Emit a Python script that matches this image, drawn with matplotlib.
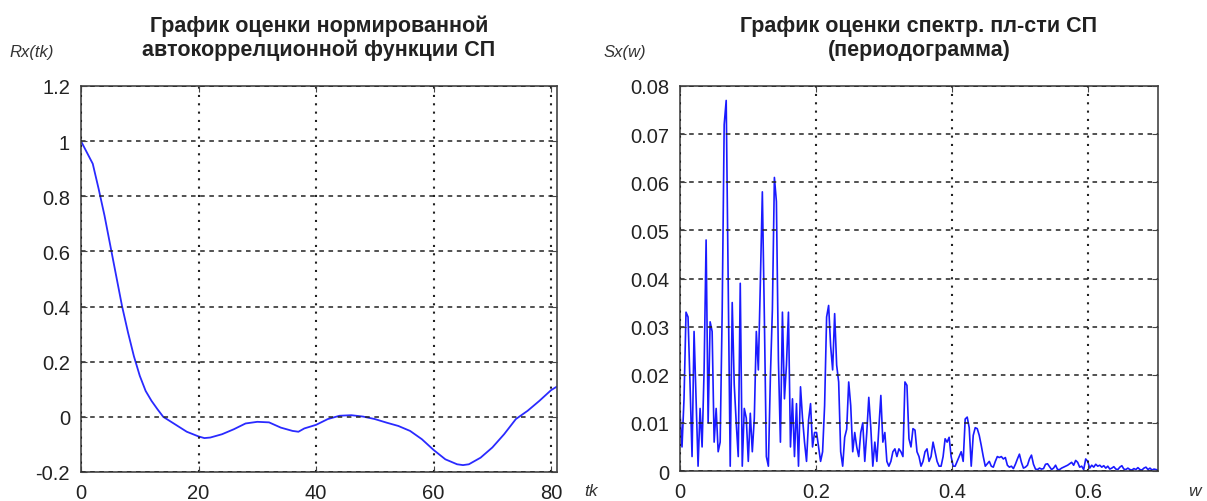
import numpy as np
import matplotlib.pyplot as plt

plt.rcParams['font.family'] = ['Liberation Sans', 'DejaVu Sans']

############## DATA #################
# normalized autocorrelation estimate
tk = [0, 2, 3, 4, 5, 6, 7, 8, 9, 10, 11, 12, 13, 14, 16, 18, 20, 21, 22, 24,
      26, 28, 30, 32, 34, 36, 37, 38, 40, 42, 44, 46, 48, 50, 52, 54, 56, 58,
      60, 62, 64, 65, 66, 68, 70, 72, 74, 76, 78, 80, 81]
Rx = [1.0, 0.918, 0.827, 0.73, 0.62, 0.51, 0.40, 0.306, 0.22, 0.149, 0.094,
      0.058, 0.028, 0.0, -0.027, -0.054, -0.071, -0.077, -0.075, -0.063,
      -0.045, -0.024, -0.018, -0.02, -0.039, -0.051, -0.054, -0.042, -0.029,
      -0.008, 0.004, 0.006, 0.001, -0.008, -0.021, -0.033, -0.051, -0.081,
      -0.12, -0.154, -0.172, -0.175, -0.172, -0.148, -0.111, -0.063, -0.008,
      0.022, 0.058, 0.097, 0.11]

# periodogram estimate (equally spaced in w)
Sx = [
    0.012, 0.005, 0.015, 0.033, 0.032, 0.018, 0.003, 0.029, 0.015, 0.001,
    0.013, 0.005, 0.021, 0.048, 0.010, 0.031, 0.029, 0.006, 0.013, 0.004,
    0.006, 0.033, 0.072, 0.077, 0.040, 0.001, 0.035, 0.018, 0.010, 0.003,
    0.039, 0.001, 0.013, 0.011, 0.002, 0.012, 0.004, 0.011, 0.029, 0.021,
    0.039, 0.058, 0.032, 0.003, 0.001, 0.0195, 0.0335, 0.061, 0.056, 0.023,
    0.006, 0.033, 0.015, 0.022, 0.033, 0.005, 0.015, 0.003, 0.014, 0.001,
    0.0175, 0.011, 0.006, 0.002, 0.0105, 0.014, 0.005, 0.008, 0.008, 0.005,
    0.002, 0.004, 0.0136, 0.032, 0.0344, 0.026, 0.021, 0.0327, 0.022, 0.0185,
    0.004, 0.001, 0.007, 0.0087, 0.0185, 0.0136, 0.004, 0.008, 0.005, 0.003,
    0.008, 0.010, 0.002, 0.008, 0.0153, 0.009, 0.001, 0.006, 0.002, 0.009,
    0.0157, 0.006, 0.008, 0.002, 0.001, 0.002, 0.004, 0.0046, 0.003, 0.0046,
    0.004, 0.003, 0.0185, 0.0178, 0.0067, 0.005, 0.0088, 0.0085, 0.004, 0.003,
    0.001, 0.002, 0.004, 0.0046, 0.002, 0.003, 0.006, 0.004, 0.002, 0.001,
    0.001, 0.003, 0.0067, 0.006, 0.007, 0.003, 0.001, 0.001, 0.002, 0.003,
    0.004, 0.002, 0.0108, 0.0112, 0.009, 0.001, 0.0074, 0.009, 0.0088, 0.0074,
    0.0053, 0.003, 0.001, 0.0015, 0.002, 0.001, 0.0008, 0.002, 0.003, 0.0028,
    0.003, 0.0025, 0.0028, 0.0012, 0.0008, 0.001, 0.0005, 0.0014, 0.0025, 0.0035,
    0.0018, 0.0006, 0.0008, 0.0012, 0.0025, 0.0033, 0.0014, 0.0004, 0.0003, 0.0006,
    0.0004, 0.0005, 0.0014, 0.0015, 0.0009, 0.0003, 0.0006, 0.0012, 0.0003, 0.0003,
    0.0006, 0.0008, 0.001, 0.0012, 0.0015, 0.0018, 0.0012, 0.0022, 0.0018, 0.0008,
    0.001, 0.0003, 0.0025, 0.002, 0.0006, 0.0012, 0.0008, 0.0014, 0.001, 0.0012,
    0.0008, 0.0011, 0.0006, 0.001, 0.0004, 0.0006, 0.0009, 0.0004, 0.0003, 0.0008,
    0.0011, 0.0004, 0.0003, 0.0006, 0.0003, 0.0002, 0.0005, 0.0003, 0.0007, 0.0003,
    0.0002, 0.0006, 0.0008, 0.0003, 0.0006, 0.0002, 0.0004, 0.0003, 0.0002,
]
w = np.linspace(0, 0.703, len(Sx))

left_yticks = [-0.2, 0, 0.2, 0.4, 0.6, 0.8, 1.0, 1.2]
left_ylabels = ['-0.2', '0', '0.2', '0.4', '0.6', '0.8', '1', '1.2']
left_xticks = [0, 20, 40, 60, 80]
right_yticks = [0, 0.01, 0.02, 0.03, 0.04, 0.05, 0.06, 0.07, 0.08]
right_ylabels = ['0', '0.01', '0.02', '0.03', '0.04', '0.05', '0.06', '0.07', '0.08']
right_xticks = [0, 0.2, 0.4, 0.6]
right_xlabels = ['0', '0.2', '0.4', '0.6']

title_left = 'График оценки нормированной\nавтокоррелционной функции СП'
title_right = 'График оценки спектр. пл-сти СП\n(периодограмма)'

############## PLOT #################
W, H = 1207, 502
fig = plt.figure(figsize=(W / 100, H / 100), dpi=100)
ax1 = fig.add_axes([81 / W, 1 - 473 / H, 476 / W, 386 / H])
ax2 = fig.add_axes([680 / W, 1 - 472 / H, 478 / W, 385 / H])


def style(ax):
    for s in ax.spines.values():
        s.set_color('#444444')
        s.set_linewidth(1.2)
    ax.tick_params(direction='in', length=4, width=0.8, colors='#444444',
                   labelcolor='#222222', labelsize=14.5, pad=8,
                   top=True, right=True)
    ax.yaxis.grid(True, color='#222222', linestyle=(0, (3, 3)), linewidth=1.1)
    ax.xaxis.grid(True, color='#222222', linestyle=(0, (1, 3)), linewidth=1.5)
    ax.set_axisbelow(False)


ax1.plot(tk, Rx, color='#2a2aff', lw=1.3)
ax1.set_xlim(0, 81)
ax1.set_ylim(-0.2, 1.2)
ax1.set_yticks(left_yticks, left_ylabels)
ax1.set_xticks(left_xticks)
style(ax1)
ax1.set_title(title_left, fontsize=15.5, fontweight='bold', color='#222222',
              pad=22, linespacing=1.2)

ax2.plot(w, Sx, color='#1a1aff', lw=1.2)
ax2.set_xlim(0, 0.703)
ax2.set_ylim(0, 0.08)
ax2.set_yticks(right_yticks, right_ylabels)
ax2.set_xticks(right_xticks, right_xlabels)
style(ax2)
ax2.set_title(title_right, fontsize=15.5, fontweight='bold', color='#222222',
              pad=22, linespacing=1.2)

fig.text(9 / W, 1 - 52 / H, 'Rx(tk)', fontsize=12, style='italic',
         color='#333333', va='center', ha='left')
fig.text(604 / W, 1 - 52 / H, 'Sx(w)', fontsize=12, style='italic',
         color='#333333', va='center', ha='left')
fig.text(584 / W, 1 - 492 / H, 'tk', fontsize=12.5, style='italic',
         color='#333333', va='center', ha='left')
fig.text(1188 / W, 1 - 492 / H, 'w', fontsize=12.5, style='italic',
         color='#333333', va='center', ha='left')

fig.savefig('out.png', dpi=100)
